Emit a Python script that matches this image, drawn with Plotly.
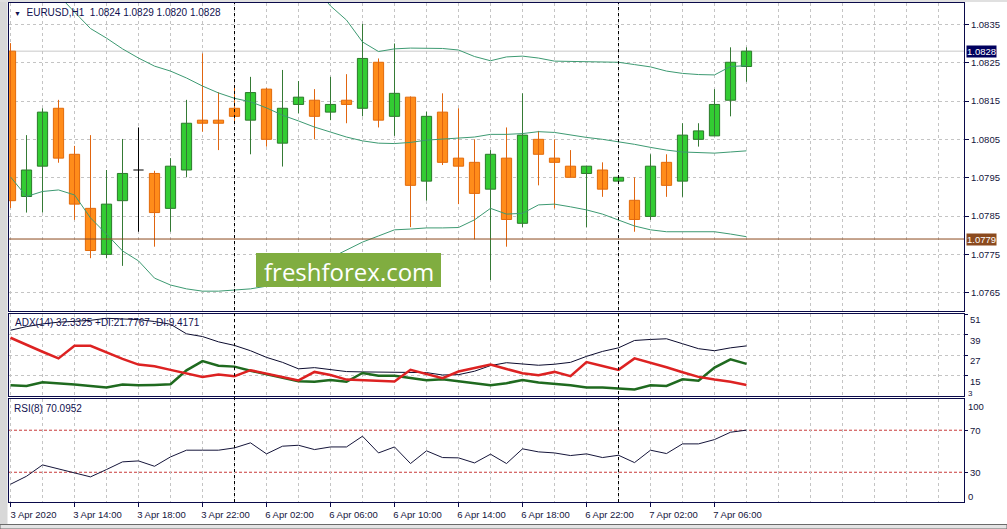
import plotly.graph_objects as go

# ---------------- data ----------------
open_ = [1.08280, 1.07901, 1.07980, 1.08131, 1.08011, 1.07870, 1.07750, 1.07890, 1.07970, 1.07961,
         1.07870, 1.07970, 1.08100, 1.08100, 1.08131, 1.08100, 1.08181, 1.08040, 1.08141, 1.08152,
         1.08121, 1.08152, 1.08131, 1.08251, 1.08110, 1.08160, 1.07941, 1.08121, 1.08001, 1.07990,
         1.07920, 1.08001, 1.07831, 1.08050, 1.08001, 1.07980, 1.07961, 1.07970, 1.07941, 1.07891,
         1.07849, 1.07990, 1.07941, 1.08050, 1.08059, 1.08152, 1.08240]
high = [1.08301, 1.08061, 1.08131, 1.08153, 1.08033, 1.08061, 1.07970, 1.08051, 1.08081, 1.07968,
        1.08001, 1.08153, 1.08274, 1.08173, 1.08192, 1.08213, 1.08184, 1.08231, 1.08202, 1.08181,
        1.08213, 1.08220, 1.08351, 1.08261, 1.08300, 1.08162, 1.08122, 1.08170, 1.08131, 1.08050,
        1.08022, 1.08081, 1.08170, 1.08072, 1.08050, 1.08022, 1.07980, 1.07990, 1.07954, 1.07951,
        1.08011, 1.08011, 1.08092, 1.08092, 1.08181, 1.08290, 1.08290]
low = [1.07871, 1.07859, 1.07859, 1.07989, 1.07840, 1.07740, 1.07740, 1.07720, 1.07809, 1.07770,
       1.07809, 1.07951, 1.08070, 1.08022, 1.08098, 1.08011, 1.08031, 1.07979, 1.08118, 1.08050,
       1.08100, 1.08092, 1.08110, 1.08081, 1.08059, 1.07821, 1.07890, 1.07983, 1.07881, 1.07789,
       1.07683, 1.07770, 1.07821, 1.07930, 1.07870, 1.07951, 1.07821, 1.07900, 1.07936, 1.07809,
       1.07840, 1.07900, 1.07900, 1.08031, 1.08059, 1.08110, 1.08200]
close = [1.07890, 1.07970, 1.08121, 1.08001, 1.07881, 1.07760, 1.07881, 1.07961, 1.07970, 1.07859,
         1.07980, 1.08092, 1.08092, 1.08092, 1.08110, 1.08172, 1.08050, 1.08131, 1.08160, 1.08110,
         1.08141, 1.08141, 1.08261, 1.08100, 1.08170, 1.07930, 1.08110, 1.07990, 1.07980, 1.07909,
         1.08011, 1.07841, 1.08061, 1.08011, 1.07990, 1.07951, 1.07980, 1.07920, 1.07951, 1.07841,
         1.07980, 1.07930, 1.08061, 1.08072, 1.08141, 1.08251, 1.08280]

bb_upper = [1.09110, 1.09072, 1.08991, 1.08935, 1.08859, 1.08833, 1.08826, 1.08812, 1.08792, 1.08794,
            1.08786, 1.08760, 1.08724, 1.08687, 1.08656, 1.08637, 1.08596, 1.08546, 1.08497, 1.08445,
            1.08398, 1.08361, 1.08304, 1.08279, 1.08286, 1.08288, 1.08288, 1.08287, 1.08283, 1.08266,
            1.08255, 1.08265, 1.08267, 1.08262, 1.08254, 1.08253, 1.08253, 1.08252, 1.08251, 1.08245,
            1.08239, 1.08228, 1.08222, 1.08219, 1.08218, 1.08240, 1.08242]
bb_middle = [1.08531, 1.08487, 1.08453, 1.08426, 1.08382, 1.08339, 1.08314, 1.08286, 1.08262, 1.08241,
             1.08228, 1.08210, 1.08189, 1.08171, 1.08157, 1.08148, 1.08132, 1.08113, 1.08098, 1.08082,
             1.08069, 1.08056, 1.08046, 1.08040, 1.08039, 1.08042, 1.08048, 1.08051, 1.08054, 1.08056,
             1.08063, 1.08063, 1.08065, 1.08070, 1.08068, 1.08061, 1.08055, 1.08050, 1.08044, 1.08037,
             1.08029, 1.08022, 1.08017, 1.08016, 1.08014, 1.08017, 1.08020]
bb_lower = [1.07952, 1.07901, 1.07914, 1.07918, 1.07905, 1.07845, 1.07803, 1.07759, 1.07733, 1.07688,
            1.07670, 1.07660, 1.07654, 1.07654, 1.07657, 1.07660, 1.07667, 1.07680, 1.07699, 1.07720,
            1.07740, 1.07761, 1.07782, 1.07798, 1.07814, 1.07816, 1.07819, 1.07819, 1.07820, 1.07840,
            1.07870, 1.07855, 1.07857, 1.07879, 1.07881, 1.07874, 1.07866, 1.07855, 1.07840, 1.07824,
            1.07814, 1.07809, 1.07809, 1.07809, 1.07809, 1.07803, 1.07796]

adx = [41.5, 43.6, 45.2, 46.2, 46.7, 47.3, 48.5, 48.1, 47.7, 46.6,
       45.0, 39.4, 37.8, 34.7, 32.6, 29.5, 25.6, 22.7, 18.9, 19.6,
       18.6, 17.3, 17.1, 17.1, 17.1, 16.7, 16.7, 15.3, 15.5, 17.5,
       20.8, 22.5, 21.6, 21.0, 21.6, 22.7, 26.2, 29.1, 31.2, 35.5,
       36.1, 36.5, 33.6, 30.7, 29.5, 31.2, 32.33]
plus_di = [9.3, 8.9, 11.1, 10.5, 9.7, 8.8, 8.0, 9.7, 9.3, 9.5,
           9.9, 18.0, 23.4, 20.7, 20.2, 17.8, 15.7, 13.8, 11.7, 11.3,
           12.4, 11.3, 16.5, 14.8, 14.8, 13.6, 12.2, 12.8, 11.5, 10.3,
           9.3, 10.5, 12.4, 10.9, 10.1, 9.3, 8.0, 8.0, 7.4, 6.8,
           9.3, 8.9, 12.8, 11.9, 19.6, 24.5, 21.78]
minus_di = [37.1, 32.9, 28.9, 25.0, 32.4, 32.4, 28.4, 24.7, 21.4, 20.4,
            18.3, 16.3, 14.2, 15.6, 14.6, 18.1, 16.0, 14.1, 12.1, 17.1,
            15.3, 12.6, 12.1, 11.7, 11.5, 18.3, 15.7, 13.4, 17.3, 19.4,
            21.4, 18.8, 16.3, 15.1, 17.1, 14.6, 22.9, 20.6, 18.3, 25.0,
            22.5, 19.8, 16.9, 14.2, 12.6, 11.3, 9.42]

rsi = [18.6, 26.2, 37.0, 33.2, 29.4, 25.6, 32.6, 39.9, 40.8, 35.7,
       44.6, 51.0, 51.0, 51.0, 53.2, 58.0, 47.5, 54.8, 55.7, 51.6,
       54.1, 54.1, 64.3, 48.4, 54.1, 38.3, 50.4, 44.0, 43.7, 38.9,
       47.2, 38.3, 52.3, 49.4, 48.4, 45.9, 47.5, 44.0, 46.2, 39.2,
       51.0, 47.8, 57.0, 57.0, 61.1, 68.1, 70.10]
rsi_levels = [70, 30]

bar_days = ["3 Apr"] * 14 + ["6 Apr"] * 24 + ["7 Apr"] * 9
tick_labels = ["3 Apr 2020", "3 Apr 14:00", "3 Apr 18:00", "3 Apr 22:00", "6 Apr 02:00",
               "6 Apr 06:00", "6 Apr 10:00", "6 Apr 14:00", "6 Apr 18:00", "6 Apr 22:00",
               "7 Apr 02:00", "7 Apr 06:00"]
bars_per_label = 4
price_ticks = [1.0765, 1.0775, 1.0785, 1.0795, 1.0805, 1.0815, 1.0825, 1.0835]
adx_ticks = [51, 39, 27, 15]
support_level = 1.0779

symbol = "EURUSD,H1"
adx_header = "ADX(14) 32.3325 +DI:21.7767 -DI:9.4171"
rsi_header = "RSI(8) 70.0952"
watermark = "freshforex.com"

# ---------------- derived ----------------
n = len(close)
idx = list(range(n))
tickvals = [i * bars_per_label for i in range(len(tick_labels))]
day_separators = [i for i in range(1, n) if bar_days[i] != bar_days[i - 1]]

W, H = 1007, 529
ML, MR, MT, MB = 9, 43, 3, 27
PW, PH = W - ML - MR, H - MT - MB


def py(p):  # pixel row -> paper y
    return (H - MB - p) / PH


def pxp(p):  # pixel col -> paper x
    return (p - ML) / PW


bar_px = 16.0
x_range = [-1.5 / bar_px, -1.5 / bar_px + PW / bar_px]

NAVY = "#0a0a4a"
TXT = "#14143c"
GRID = "#c4c4c4"
FONT = "Liberation Sans"
FS = 9.5

BULL_FILL, BULL_LINE, BULL_WICK = "#33cc33", "#2a7a2a", "#357a35"
BEAR_FILL, BEAR_LINE, BEAR_WICK = "#ff8c1a", "#e26a0a", "#e0650f"

fig = go.Figure()

# wicks
for kind, col in (("bull", BULL_WICK), ("bear", BEAR_WICK), ("doji", "#000000")):
    wx, wy = [], []
    for i in idx:
        k = "bull" if close[i] > open_[i] else ("bear" if close[i] < open_[i] else "doji")
        if k == kind:
            wx += [i, i, None]
            wy += [low[i], high[i], None]
    fig.add_trace(go.Scatter(x=wx, y=wy, mode="lines", line=dict(color=col, width=1),
                             hoverinfo="skip", showlegend=False, xaxis="x", yaxis="y"))

# bodies
bx, bh, bb, fc, lc = [], [], [], [], []
for i in idx:
    if close[i] == open_[i]:
        continue
    bx.append(i)
    bh.append(abs(close[i] - open_[i]))
    bb.append(min(close[i], open_[i]))
    up = close[i] > open_[i]
    fc.append(BULL_FILL if up else BEAR_FILL)
    lc.append(BULL_LINE if up else BEAR_LINE)
fig.add_trace(go.Bar(x=bx, y=bh, base=bb, width=0.64,
                     marker=dict(color=fc, line=dict(color=lc, width=1)),
                     hoverinfo="skip", showlegend=False, xaxis="x", yaxis="y"))

# doji bodies
for i in idx:
    if close[i] == open_[i]:
        fig.add_trace(go.Scatter(x=[i - 0.32, i + 0.32], y=[open_[i], close[i]], mode="lines",
                                 line=dict(color="#000000", width=1), hoverinfo="skip",
                                 showlegend=False, xaxis="x", yaxis="y"))

# Bollinger bands
for band in (bb_upper, bb_middle, bb_lower):
    fig.add_trace(go.Scatter(x=idx, y=band, mode="lines", line=dict(color="#3d9a72", width=1),
                             hoverinfo="skip", showlegend=False, xaxis="x", yaxis="y"))

# ADX panel
fig.add_trace(go.Scatter(x=idx, y=adx, mode="lines", line=dict(color="#0b0b2e", width=1),
                         hoverinfo="skip", showlegend=False, xaxis="x2", yaxis="y2"))
fig.add_trace(go.Scatter(x=idx, y=plus_di, mode="lines", line=dict(color="#1f6a1f", width=2.5),
                         hoverinfo="skip", showlegend=False, xaxis="x2", yaxis="y2"))
fig.add_trace(go.Scatter(x=idx, y=minus_di, mode="lines", line=dict(color="#dd2222", width=2.5),
                         hoverinfo="skip", showlegend=False, xaxis="x2", yaxis="y2"))

# RSI panel
fig.add_trace(go.Scatter(x=idx, y=rsi, mode="lines", line=dict(color="#15153a", width=1),
                         hoverinfo="skip", showlegend=False, xaxis="x3", yaxis="y3"))

shapes = []
for lv in rsi_levels:
    shapes.append(dict(type="line", xref="x3 domain", x0=0, x1=1, yref="y3", y0=lv, y1=lv,
                       line=dict(color="#c83a3a", width=1, dash="3px,2px"), layer="below"))
# bid line
shapes.append(dict(type="line", xref="x domain", x0=0, x1=1, yref="y", y0=close[-1], y1=close[-1],
                   line=dict(color="#c8c8c8", width=1), layer="below"))
# support level line
shapes.append(dict(type="line", xref="x domain", x0=0, x1=1, yref="y", y0=support_level, y1=support_level,
                   line=dict(color="#8b4a1e", width=1), layer="above"))
# day separators
for d in day_separators:
    shapes.append(dict(type="line", xref="x", x0=d, x1=d, yref="paper", y0=0, y1=1,
                       line=dict(color="#000000", width=1, dash="3px,3px"), layer="above"))
# watermark box
shapes.append(dict(type="rect", xref="paper", yref="paper", x0=pxp(256), x1=pxp(441),
                   y0=py(287), y1=py(253), fillcolor="#80ad40", line=dict(width=0), layer="above"))
# window chrome
shapes.append(dict(type="rect", xref="paper", yref="paper", x0=pxp(0), x1=pxp(7.5), y0=py(529), y1=py(0),
                   fillcolor="#d8d8d8", line=dict(width=0), layer="below"))
shapes.append(dict(type="rect", xref="paper", yref="paper", x0=pxp(0), x1=pxp(1007), y0=py(529), y1=py(524.5),
                   fillcolor="#e4e4e4", line=dict(color="#6a6a6a", width=1), layer="below"))
shapes.append(dict(type="rect", xref="paper", yref="paper", x0=pxp(0), x1=pxp(1007), y0=py(2), y1=py(0),
                   fillcolor="#e0e0e0", line=dict(width=0), layer="below"))

annotations = [
    dict(xref="paper", yref="paper", x=pxp(12), y=py(12), xanchor="left", yanchor="middle",
         text="<span style='font-size:7px'>▼</span>  " + symbol + "  " +
              " ".join(f"{v:.4f}" for v in (open_[-1], high[-1], low[-1], close[-1])),
         showarrow=False, font=dict(family=FONT, size=10, color="#101050")),
    dict(xref="paper", yref="paper", x=pxp(13), y=py(322), xanchor="left", yanchor="middle",
         text=adx_header, showarrow=False, font=dict(family=FONT, size=10, color="#101050")),
    dict(xref="paper", yref="paper", x=pxp(12), y=py(408), xanchor="left", yanchor="middle",
         text=rsi_header, showarrow=False, font=dict(family=FONT, size=10, color="#101050")),
    dict(xref="paper", yref="paper", x=pxp(348.5), y=py(271), xanchor="center", yanchor="middle",
         text=watermark, showarrow=False, font=dict(family="Open Sans", size=24, color="#ffffff")),
    dict(xref="paper", yref="y", x=1, y=close[-1], xanchor="left", yanchor="middle", xshift=2,
         text=f"{close[-1]:.4f}", showarrow=False, bgcolor="#00005e", borderpad=0,
         font=dict(family=FONT, size=FS, color="#ffffff")),
    dict(xref="paper", yref="y", x=1, y=support_level, xanchor="left", yanchor="middle", xshift=2,
         text=f"{support_level:.4f}", showarrow=False, bgcolor="#8b4a1e", borderpad=0,
         font=dict(family=FONT, size=FS, color="#ffffff")),
    dict(xref="paper", yref="paper", x=1, y=py(393), xanchor="left", yanchor="middle", xshift=2,
         text="3", showarrow=False, font=dict(family=FONT, size=8, color=TXT)),
    dict(xref="paper", yref="paper", x=1, y=py(406.7), xanchor="left", yanchor="middle", xshift=2,
         text="100", showarrow=False, font=dict(family=FONT, size=FS, color=TXT)),
    dict(xref="paper", yref="paper", x=1, y=py(496), xanchor="left", yanchor="middle", xshift=2,
         text="0", showarrow=False, font=dict(family=FONT, size=FS, color=TXT)),
]

grid_even = [v for v in range(0, 60, 2)]
minor_vals = [v for v in grid_even if v not in tickvals]

common_x = dict(range=x_range, showline=True, mirror=True, linecolor=NAVY, linewidth=1,
                zeroline=False, fixedrange=True, automargin=False)
common_y = dict(side="right", showline=True, mirror=True, linecolor=NAVY, linewidth=1,
                zeroline=False, fixedrange=True, automargin=False,
                tickfont=dict(family=FONT, size=FS, color=TXT),
                ticks="outside", tickcolor=NAVY, tickwidth=1)

fig.update_layout(
    width=W, height=H,
    margin=dict(l=ML, r=MR, t=MT, b=MB, pad=0, autoexpand=False),
    paper_bgcolor="#ffffff", plot_bgcolor="#ffffff",
    showlegend=False, barmode="overlay", hovermode=False,
    font=dict(family=FONT, size=FS, color=TXT),
    xaxis=dict(common_x, domain=[0, 1], anchor="y", tickmode="array", tickvals=grid_even,
               showticklabels=False, ticks="", showgrid=True, gridcolor=GRID, griddash="3px,3px", gridwidth=1),
    xaxis2=dict(common_x, domain=[0, 1], anchor="y2", matches="x", tickmode="array", tickvals=grid_even,
                showticklabels=False, ticks="", showgrid=True, gridcolor=GRID, griddash="3px,3px", gridwidth=1),
    xaxis3=dict(common_x, domain=[0, 1], anchor="y3", matches="x", tickmode="array", tickvals=tickvals,
                ticktext=tick_labels, ticks="outside", ticklen=4, tickcolor=NAVY, ticklabelshift=23,
                tickfont=dict(family=FONT, size=FS, color=TXT),
                showgrid=True, gridcolor=GRID, griddash="3px,3px", gridwidth=1,
                minor=dict(tickmode="array", tickvals=minor_vals, showgrid=True, gridcolor=GRID,
                           griddash="3px,3px", gridwidth=1, ticks="")),
    yaxis=dict(common_y, domain=[py(311), 1], anchor="x",
               range=[1.0765 - 18.3 / 38340, 1.0765 + 289.7 / 38340],
               tickmode="array", tickvals=price_ticks, tickformat=".4f", ticklen=4,
               showgrid=True, gridcolor=GRID, griddash="3px,3px", gridwidth=1),
    yaxis2=dict(common_y, domain=[py(396), py(314)], anchor="x2", range=[3, 51],
                tickmode="array", tickvals=adx_ticks, ticklen=3, ticklabelshift=6,
                showgrid=True, gridcolor=GRID, griddash="3px,3px", gridwidth=1),
    yaxis3=dict(common_y, domain=[0, py(398.5)], anchor="x3", range=[1.7, 100.2],
                tickmode="array", tickvals=rsi_levels, ticklen=3, showgrid=False),
    shapes=shapes,
    annotations=annotations,
)

fig.write_html("out.html", config={"displayModeBar": False},
               post_script="document.body.style.margin='0px';document.body.style.padding='0px';")
